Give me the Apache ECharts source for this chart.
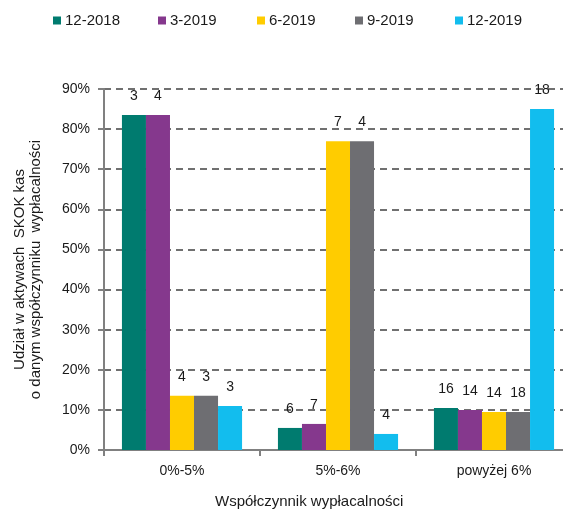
<!DOCTYPE html>
<html>
<head>
<meta charset="utf-8">
<script src="https://cdn.jsdelivr.net/npm/echarts@6/dist/echarts.min.js"></script>
<style>html,body{margin:0;padding:0;background:#fff;}#c{width:563px;height:510px;}</style>
</head>
<body>
<div id="c"></div>
<script>
const categories = ['0%-5%', '5%-6%', 'powyżej 6%'];
const seriesNames = ['12-2018', '3-2019', '6-2019', '9-2019', '12-2019'];
const s1218 = [83.5, 5.5, 10.5];
const s0319 = [83.5, 6.5, 10];
const s0619 = [13.5, 77, 9.5];
const s0919 = [13.5, 77, 9.5];
const s1219 = [11, 4, 85];
const lab1218 = ['3', '6', '16'];
const lab0319 = ['4', '7', '14'];
const lab0619 = ['4', '7', '14'];
const lab0919 = ['3', '4', '18'];
const lab1219 = ['3', '4', '18'];
const yTicks = [0, 10, 20, 30, 40, 50, 60, 70, 80, 90];

const values = [s1218, s0319, s0619, s0919, s1219];
const labels = [lab1218, lab0319, lab0619, lab0919, lab1219];
const colors = ['#007B6F', '#85388D', '#FFCC00', '#6E6E72', '#12BDEE'];
const font = '"Liberation Sans", Arial, sans-serif';
const txt = '#1a1a1a';
const legendLefts = [53, 158, 257, 355, 455];

const chart = echarts.init(document.getElementById('c'));
chart.setOption({
  animation: false,
  textStyle: { fontFamily: font, color: txt },
  legend: seriesNames.map((n, i) => ({
    data: [n], left: legendLefts[i], top: 13, padding: 0,
    itemWidth: 8, itemHeight: 8, itemGap: 0,
    icon: 'rect',
    textStyle: { fontSize: 15, color: txt, fontFamily: font, padding: [0, 0, 0, -1] }
  })),
  grid: { left: 104, top: 89, bottom: 60, width: 468, containLabel: false, outerBoundsMode: 'none' },
  xAxis: {
    type: 'category', data: categories,
    axisLine: { lineStyle: { color: '#808080', width: 2 } },
    axisTick: { show: true, length: 6, lineStyle: { color: '#808080', width: 2 } },
    axisLabel: { fontSize: 14, color: txt, margin: 14, fontFamily: font }
  },
  yAxis: {
    type: 'value', min: 0, max: 90, interval: 10,
    axisLine: { show: true, lineStyle: { color: '#808080', width: 2 } },
    axisTick: { show: true, length: 6, lineStyle: { color: '#808080', width: 2 } },
    axisLabel: { fontSize: 14, color: txt, margin: 14, fontFamily: font,
      formatter: v => yTicks.includes(v) ? v + '%' : '' },
    splitLine: { show: true, lineStyle: { color: '#707070', width: 2, type: [7, 5] } },
    name: 'Udział w aktywach  SKOK kas\no danym współczynniku  wypłacalności',
    nameLocation: 'middle', nameRotate: 90, nameGap: 60,
    nameTextStyle: { fontSize: 15, color: txt, lineHeight: 16, fontFamily: font, align: 'center' }
  },
  graphic: [{
    type: 'text', left: 314 - 99, top: 494,
    style: { text: 'Współczynnik wypłacalności', fontSize: 15, fill: txt, font: '15px ' + font }
  }],
  series: seriesNames.map((n, i) => ({
    name: n, type: 'bar', data: values[i],
    barGap: '0%', barCategoryGap: '23%',
    itemStyle: { color: colors[i] },
    label: { show: true, position: 'top', distance: 12, fontSize: 14, color: txt, fontFamily: font,
      formatter: p => labels[i][p.dataIndex] }
  }))
});
</script>
</body>
</html>
